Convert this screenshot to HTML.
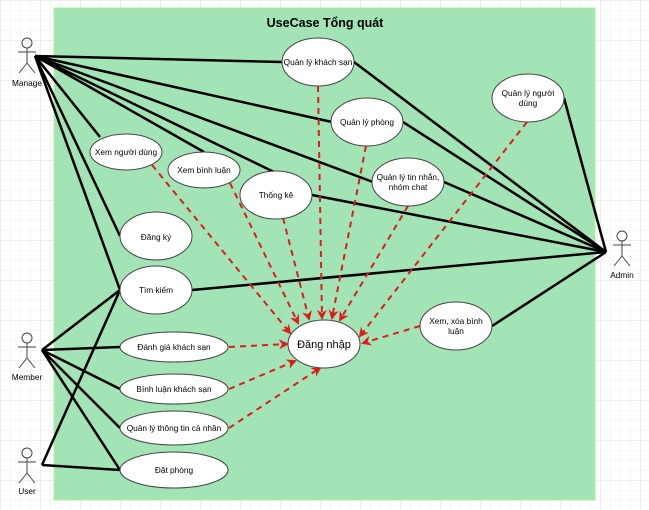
<!DOCTYPE html>
<html><head><meta charset="utf-8"><style>
html,body{margin:0;padding:0;width:649px;height:510px;overflow:hidden;background:#fff}
svg{display:block}
text{font-family:"Liberation Sans","Noto Sans CJK SC",sans-serif;font-size:8.3px;fill:#000}
</style></head><body>
<svg width="649" height="510" viewBox="0 0 649 510" xmlns="http://www.w3.org/2000/svg">
<defs>
<pattern id="g" width="10" height="10" patternUnits="userSpaceOnUse"><path d="M10 0H0V10" fill="none" stroke="#eee" stroke-width="1"/></pattern>
<pattern id="G" width="40" height="40" patternUnits="userSpaceOnUse"><rect width="40" height="40" fill="url(#g)"/><path d="M40 0H0V40" fill="none" stroke="#ddd" stroke-width="1"/></pattern>
<marker id="a" markerWidth="10" markerHeight="10" refX="8" refY="5" orient="auto" markerUnits="userSpaceOnUse"><path d="M0 0L10 5L0 10L3 5Z" fill="#e01b1b"/></marker>
</defs>
<rect width="649" height="510" fill="url(#G)"/>
<rect x="54" y="8" width="541" height="492" fill="#a3e4b6" stroke="#b0f090" stroke-width="1"/>
<text x="325" y="27" text-anchor="middle" style="font-size:12.5px;font-weight:bold">UseCase Tổng quát</text>

<g stroke="#000" stroke-width="2.5" fill="none">
<line x1="35" y1="56" x2="282" y2="62"/>
<line x1="35" y1="56" x2="332" y2="122"/>
<line x1="35" y1="56" x2="373" y2="182"/>
<line x1="35" y1="56" x2="274" y2="172"/>
<line x1="35" y1="56" x2="204" y2="152"/>
<line x1="35" y1="56" x2="100" y2="137"/>
<line x1="35" y1="56" x2="120" y2="236"/>
<line x1="35" y1="56" x2="120" y2="290"/>
<line x1="606" y1="252" x2="354" y2="62"/>
<line x1="606" y1="252" x2="403" y2="122"/>
<line x1="606" y1="252" x2="564" y2="98"/>
<line x1="606" y1="252" x2="444" y2="182"/>
<line x1="606" y1="252" x2="312" y2="195"/>
<line x1="606" y1="252" x2="192" y2="290"/>
<line x1="606" y1="252" x2="492" y2="326"/>
<line x1="42" y1="350" x2="120" y2="290"/>
<line x1="42" y1="350" x2="120" y2="347"/>
<line x1="42" y1="350" x2="120" y2="389"/>
<line x1="42" y1="350" x2="120" y2="428"/>
<line x1="42" y1="350" x2="120" y2="470"/>
<line x1="42" y1="465" x2="120" y2="290"/>
<line x1="42" y1="465" x2="120" y2="470"/>
</g>

<g stroke="#e01b1b" stroke-width="2" stroke-dasharray="6,5" fill="none" marker-end="url(#a)">
<line x1="152" y1="165" x2="290" y2="333"/>
<line x1="230" y1="183" x2="298" y2="323"/>
<line x1="283" y1="218" x2="309" y2="319"/>
<line x1="318" y1="86" x2="322" y2="318"/>
<line x1="366" y1="146" x2="332" y2="318"/>
<line x1="408" y1="206" x2="340" y2="320"/>
<line x1="527" y1="122" x2="360" y2="336"/>
<line x1="420" y1="326" x2="363" y2="343"/>
<line x1="229" y1="347" x2="287" y2="344"/>
<line x1="229" y1="389" x2="295" y2="361"/>
<line x1="229" y1="428" x2="320" y2="368"/>
</g>

<g fill="#fff" stroke="#444" stroke-width="1">
<ellipse cx="318" cy="62" rx="36" ry="24"/>
<ellipse cx="367" cy="122" rx="36" ry="24"/>
<ellipse cx="528" cy="98" rx="36" ry="24"/>
<ellipse cx="408" cy="182" rx="36" ry="24"/>
<ellipse cx="126" cy="152" rx="36" ry="18"/>
<ellipse cx="204" cy="170" rx="36" ry="18"/>
<ellipse cx="276" cy="195" rx="36" ry="24"/>
<ellipse cx="156" cy="236" rx="36" ry="24"/>
<ellipse cx="156" cy="290" rx="36" ry="24"/>
<ellipse cx="174" cy="347" rx="54" ry="15"/>
<ellipse cx="174" cy="389" rx="54" ry="15"/>
<ellipse cx="174" cy="428" rx="54" ry="17"/>
<ellipse cx="174" cy="470" rx="54" ry="18"/>
<ellipse cx="324" cy="344" rx="36" ry="24"/>
<ellipse cx="456" cy="326" rx="36" ry="24"/>
</g>

<g text-anchor="middle">
<text x="318" y="65">Quản lý khách sạn</text>
<text x="367" y="125">Quản lý phòng</text>
<text x="528" y="96">Quản lý người</text><text x="528" y="106">dùng</text>
<text x="408" y="180">Quản lý tin nhắn,</text><text x="408" y="190">nhóm chat</text>
<text x="126" y="155">Xem người dùng</text>
<text x="204" y="173">Xem bình luận</text>
<text x="276" y="198">Thống kê</text>
<text x="156" y="240">Đăng ký</text>
<text x="156" y="293">Tìm kiếm</text>
<text x="174" y="350">Đánh giá khách sạn</text>
<text x="174" y="392">Bình luận khách sạn</text>
<text x="174" y="431">Quản lý thông tin cá nhân</text>
<text x="174" y="473">Đặt phòng</text>
<text x="324" y="348" style="font-size:11px">Đăng nhập</text>
<text x="456" y="324">Xem, xóa bình</text><text x="456" y="334">luận</text>
</g>

<g stroke="#444" stroke-width="1" fill="none">
<circle cx="27" cy="43" r="5"/><path d="M27 48V63M18 52H36M27 63L19 73M27 63L35 73"/>
<circle cx="27" cy="338" r="5"/><path d="M27 343V358M18 347H36M27 358L19 368M27 358L35 368"/>
<circle cx="27" cy="453" r="5"/><path d="M27 458V473M18 462H36M27 473L19 483M27 473L35 483"/>
<circle cx="622" cy="236" r="5"/><path d="M622 241V256M613 245H631M622 256L614 266M622 256L630 266"/>
</g>
<g text-anchor="middle">
<text x="27" y="86">Manage</text>
<text x="27" y="380">Member</text>
<text x="27" y="494">User</text>
<text x="622" y="278">Admin</text>
</g>
</svg>
</body></html>
